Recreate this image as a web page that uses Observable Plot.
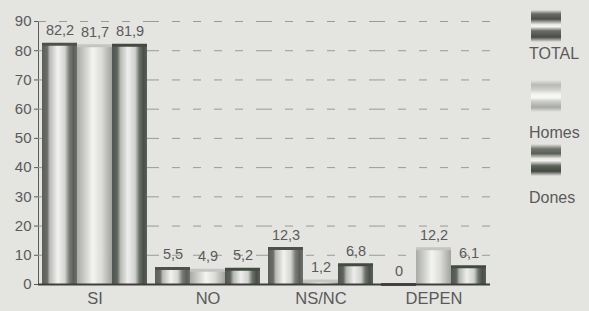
<!DOCTYPE html>
<html><head><meta charset="utf-8">
<script src="https://cdn.jsdelivr.net/npm/d3@7"></script>
<script src="https://cdn.jsdelivr.net/npm/@observablehq/plot@0.6"></script>
<style>
body{margin:0;background:#e4e4e1;}
#wrap{position:relative;width:589px;height:311px;background:#e4e4e1;font-family:"Liberation Sans",Arial,sans-serif;}
.lg{position:absolute;left:529px;color:#5a5a5a;font-size:16px;line-height:18px;}
.ic{position:absolute;left:531px;width:30px;height:32px;}
</style></head>
<body><div id="wrap"></div>
<script>
const categories = ["SI","NO","NS/NC","DEPEN"];
const series = ["TOTAL","Homes","Dones"];
const totalValues = [82.2,5.5,12.3,0];
const homesValues = [81.7,4.9,1.2,12.2];
const donesValues = [81.9,5.2,6.8,6.1];
const yTicks = [0,10,20,30,40,50,60,70,80,90];

const valuesBySeries = {TOTAL: totalValues, Homes: homesValues, Dones: donesValues};
const rows = [];
categories.forEach((c,i)=>series.forEach(s=>rows.push({cat:c, ser:s, v:valuesBySeries[s][i]})));
const fmt = v => v===0 ? "0" : String(v).replace(".", ",");

const grads = {TOTAL:"gT", Homes:"gH", Dones:"gD"};
const caps = {TOTAL:"#4e504c", Homes:"#c4c4c0", Dones:"#434a42"};

const marks = [
  Plot.ruleY(yTicks.filter(t=>t>0), {stroke:"#9a9a96", strokeDasharray:"8,13", strokeWidth:1}),
];
series.forEach(s=>{
  const d = rows.filter(r=>r.ser===s);
  marks.push(Plot.barY(d, {fx:"cat", x:"ser", y:"v", fill:`url(#${grads[s]})`}));
  marks.push(Plot.tickY(d, {fx:"cat", x:"ser", y:"v", stroke:caps[s], strokeWidth:3}));
});
marks.push(Plot.text(rows, {fx:"cat", x:"ser", y:"v", text:d=>fmt(d.v), lineAnchor:"bottom", dy:-9, fill:"#5a5a5a", fontSize:14.5}));
marks.push(Plot.ruleY([0], {stroke:"#3e3e3c", strokeWidth:2}));

const chart = Plot.plot({
  width:589, height:311,
  marginLeft:38, marginRight:99, marginTop:21, marginBottom:27,
  style:{background:"transparent", fontFamily:"Liberation Sans, Arial, sans-serif", color:"#5a5a5a", fontSize:"15px"},
  fx:{domain:categories, padding:0, axis:"bottom", label:null, tickSize:0, tickPadding:8},
  x:{domain:series, axis:null, paddingInner:0, paddingOuter:0.1},
  y:{domain:[0,90], ticks:yTicks, label:null, tickSize:4, tickPadding:3, line:true},
  marks
});
chart.querySelectorAll('g[aria-label="fx-axis tick label"] text').forEach(t=>t.style.fontSize="16.5px");
chart.insertAdjacentHTML("afterbegin", `<defs>
<linearGradient id="gT" x1="0" x2="1" y1="0" y2="0">
<stop offset="0" stop-color="#5c5e5a"/><stop offset="0.15" stop-color="#6a6c68"/><stop offset="0.22" stop-color="#b8bab6"/><stop offset="0.45" stop-color="#f2f2f0"/><stop offset="0.65" stop-color="#d4d6d2"/><stop offset="0.78" stop-color="#7a7c78"/><stop offset="0.9" stop-color="#5c5e5a"/><stop offset="1" stop-color="#6e706c"/>
</linearGradient>
<linearGradient id="gH" x1="0" x2="1" y1="0" y2="0">
<stop offset="0" stop-color="#a8aaa6"/><stop offset="0.15" stop-color="#c0c2be"/><stop offset="0.45" stop-color="#f4f4f2"/><stop offset="0.7" stop-color="#dcdcd8"/><stop offset="0.9" stop-color="#b4b6b2"/><stop offset="1" stop-color="#a0a29e"/>
</linearGradient>
<linearGradient id="gD" x1="0" x2="1" y1="0" y2="0">
<stop offset="0" stop-color="#505650"/><stop offset="0.15" stop-color="#5e645c"/><stop offset="0.24" stop-color="#b4b8b2"/><stop offset="0.45" stop-color="#eeeeec"/><stop offset="0.66" stop-color="#cfd1cd"/><stop offset="0.78" stop-color="#6c726a"/><stop offset="0.9" stop-color="#485048"/><stop offset="1" stop-color="#5a605a"/>
</linearGradient></defs>`);
const wrap = document.getElementById("wrap");
wrap.appendChild(chart);
chart.style.position="absolute"; chart.style.left="0"; chart.style.top="0";

const legendPos = [{icon:10,label:45},{icon:80,label:124},{icon:144,label:189}];
const iconGrad = {
  TOTAL:"linear-gradient(#e4e4e1 0%,#6a6c68 12%,#4c4e4a 28%,#e8e8e6 45%,#f6f6f4 52%,#6a6c68 65%,#4a4c48 85%,#e4e4e1 100%)",
  Homes:"linear-gradient(#e4e4e1 0%,#b8bab6 15%,#cfd0cc 30%,#f4f4f2 45%,#f8f8f6 55%,#c8cac6 68%,#a8aaa6 85%,#e4e4e1 100%)",
  Dones:"linear-gradient(#e4e4e1 0%,#70766e 15%,#5a6058 30%,#e8e8e6 45%,#f4f4f2 52%,#5e645c 68%,#404840 85%,#e4e4e1 100%)"
};
series.forEach((s,i)=>{
  const ic=document.createElement("div"); ic.className="ic"; ic.style.top=legendPos[i].icon+"px"; ic.style.background=iconGrad[s]; wrap.appendChild(ic);
  const lb=document.createElement("div"); lb.className="lg"; lb.style.top=legendPos[i].label+"px"; lb.textContent=s; wrap.appendChild(lb);
});
</script></body></html>
